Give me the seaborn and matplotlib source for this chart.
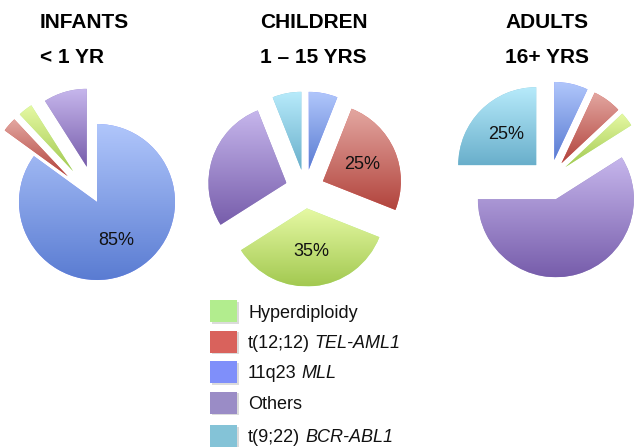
import numpy as np
import matplotlib.pyplot as plt
import matplotlib.patches as mpatches
from matplotlib.colors import to_rgb
import seaborn as sns

sns.set_theme(style="white")
plt.rcParams['font.family'] = ['Liberation Sans', 'DejaVu Sans']
plt.rcParams['text.color'] = 'black'

# categories in the order the wedges run (clockwise from 12 o'clock)
pie_order = ['MLL', 'TEL-AML1', 'Hyperdiploidy', 'Others', 'BCR-ABL1']
infants = [85, 3, 3, 9, 0]
children = [6, 25, 35, 28, 6]
adults = [7, 6, 3, 59, 25]
infants_labels = ['85%', '', '', '', '']
children_labels = ['', '25%', '35%', '', '']
adults_labels = ['', '', '', '', '25%']

titles = ['INFANTS', 'CHILDREN', 'ADULTS']
subtitles = ['< 1 YR', '1 – 15 YRS', '16+ YRS']

# legend order, label = (plain part, italic part)
legend_keys = ['Hyperdiploidy', 'TEL-AML1', 'MLL', 'Others', 'BCR-ABL1']
legend_plain = ['Hyperdiploidy', 't(12;12)', '11q23', 'Others', 't(9;22)']
legend_italic = ['', 'TEL-AML1', 'MLL', '', 'BCR-ABL1']

# gradient colours (top, bottom) and flat legend colour
grad_colors = {
    'Hyperdiploidy': ('#e6f9a4', '#a3c951'),
    'TEL-AML1': ('#e3a7a1', '#b2443d'),
    'MLL': ('#b0c6fb', '#5a7cd2'),
    'Others': ('#c6b6ec', '#775dab'),
    'BCR-ABL1': ('#b8ebfb', '#69afcb'),
}
flat_colors = {
    'Hyperdiploidy': '#b2ed8e',
    'TEL-AML1': '#d9625c',
    'MLL': '#7f8ffa',
    'Others': '#9a8cc6',
    'BCR-ABL1': '#84c3d7',
}

W, H = 635, 447
fig = plt.figure(figsize=(W / 100, H / 100), dpi=100)
ax = fig.add_axes([0, 0, 1, 1])


def shade(wedge, top, bottom):
    bb = wedge.get_path().get_extents()
    t = np.linspace(0, 1, 128)[:, None, None]
    img = np.array(to_rgb(top))[None, None, :] * (1 - t) + np.array(to_rgb(bottom))[None, None, :] * t
    im = ax.imshow(img, extent=[bb.x0, bb.x1, bb.y0, bb.y1], origin='upper',
                   aspect='auto', interpolation='bilinear', zorder=2)
    im.set_clip_path(wedge)


R = 78
pies = [
    (infants, infants_labels, [0, 0.5, 0.5, 0.47, 0], (97, H - 202)),
    (children, children_labels, [0.25] * 5, (305, H - 189)),
    (adults, adults_labels, [0.25, 0.25, 0.25, 0.27, 0.25], (550, H - 179)),
]

for vals, labs, expl, ctr in pies:
    keep = [i for i, v in enumerate(vals) if v > 0]
    v = [vals[i] for i in keep]
    keys = [pie_order[i] for i in keep]
    wedges, _ = ax.pie(v, explode=[expl[i] * R for i in keep], startangle=90, counterclock=False,
                       radius=R, center=ctr, colors=[flat_colors[k] for k in keys],
                       wedgeprops=dict(linewidth=0))
    for w, k, i in zip(wedges, keys, keep):
        shade(w, *grad_colors[k])
        if labs[i]:
            th = np.deg2rad((w.theta1 + w.theta2) / 2)
            ax.text(w.center[0] + 0.55 * w.r * np.cos(th), w.center[1] + 0.55 * w.r * np.sin(th),
                    labs[i], fontsize=13, ha='center', va='center', color='#111111', zorder=3)

ax.set_xlim(0, W)
ax.set_ylim(0, H)
ax.set_aspect('auto')
ax.axis('off')

# titles
for x, t1, t2 in zip([40, 260, 505], titles, subtitles):
    ax.text(x, H - 28, t1, fontsize=15, fontweight='bold', ha='left', va='baseline')
    ax.text(x, H - 63, t2, fontsize=15, fontweight='bold', ha='left', va='baseline')

# legend
renderer = fig.canvas.get_renderer()


def text_width(s, **kw):
    t = ax.text(0, 0, s, **kw)
    w = t.get_window_extent(renderer).width
    t.remove()
    return w


for i, k in enumerate(legend_keys):
    yc = 311 + 30.5 * i + (3 if i == len(legend_keys) - 1 else 0)
    ax.add_patch(mpatches.Rectangle((211.5, H - yc - 11 - 1.5), 27, 22, color='#999999',
                                    alpha=0.35, linewidth=0, zorder=2))
    ax.add_patch(mpatches.Rectangle((210, H - yc - 11), 27, 22, color=flat_colors[k],
                                    linewidth=0, zorder=3))
    ax.text(248, H - yc - 6.5, legend_plain[i], fontsize=13, ha='left', va='baseline',
            color='#111111')
    if legend_italic[i]:
        full = legend_plain[i] + ' ' + legend_italic[i]
        x2 = 248 + text_width(full, fontsize=13) - text_width(legend_italic[i], fontsize=13)
        ax.text(x2, H - yc - 6.5, legend_italic[i], fontsize=13, style='italic',
                ha='left', va='baseline', color='#111111')

plt.savefig('out.png', dpi=100)
plt.close()
